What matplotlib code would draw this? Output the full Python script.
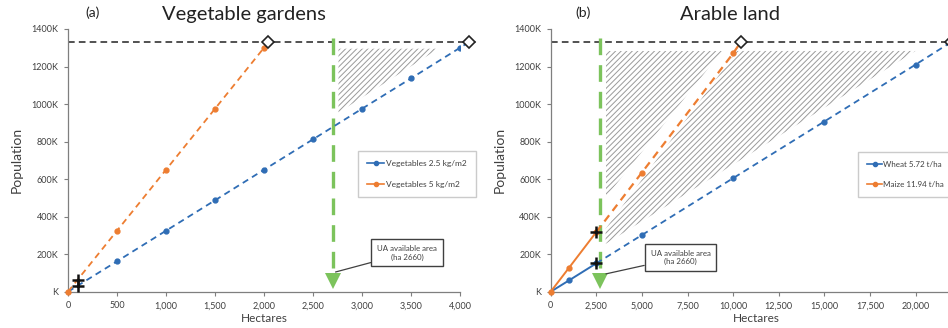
import matplotlib
matplotlib.use('Agg')
import matplotlib.pyplot as plt
from matplotlib.ticker import FuncFormatter

plt.rcParams['font.family'] = ['Lato', 'DejaVu Sans']
plt.rcParams['hatch.linewidth'] = 0.7
plt.rcParams['hatch.color'] = '#9a9a9a'

BLUE = '#2f6db5'
ORANGE = '#ed7d31'
GREEN = '#7cc35c'
TXT = '#404040'

POP_TARGET = 1330  # thousands
UA_AREA = 2700

# (a) vegetable gardens, hectares vs population (K)
veg_x = [0, 500, 1000, 1500, 2000, 2500, 3000, 3500, 4000]
veg25_y = [0, 162, 325, 487, 650, 812, 975, 1137, 1300]
veg5_x = [0, 500, 1000, 1500, 2000]
veg5_y = [0, 325, 650, 975, 1300]
veg25_end = 4090
veg5_end = 2045
veg_plus_x = [100, 100]
veg_plus_y = [32, 65]
veg_ticks = [0, 500, 1000, 1500, 2000, 2500, 3000, 3500, 4000]

# (b) arable land
wheat_x = [0, 1000, 2500, 5000, 10000, 15000, 20000]
wheat_y = [0, 60, 151, 302, 605, 907, 1210]
maize_x = [0, 1000, 2500, 5000, 10000]
maize_y = [0, 127, 318, 635, 1270]
wheat_end = 21950
maize_end = 10420
arable_ticks = [0, 2500, 5000, 7500, 10000, 12500, 15000, 17500, 20000, 22500]

y_ticks = [0, 200, 400, 600, 800, 1000, 1200, 1400]

fig = plt.figure(figsize=(9.48, 3.28), dpi=100)
ax1 = fig.add_axes([68 / 948, 36.3 / 328, 392 / 948, 262.7 / 328])
ax2 = fig.add_axes([550.7 / 948, 36.3 / 328, 410.4 / 948, 262.7 / 328])

kfmt = FuncFormatter(lambda v, p: 'K' if v == 0 else '%dK' % v)


def style_axis(ax, ticks, xmax):
    ax.set_xlim(0, xmax)
    ax.set_ylim(0, 1400)
    ax.set_xticks(ticks)
    # the last tick of panel (b) falls outside the picture, so no label for it
    ax.set_xticklabels(['{:,}'.format(t) if t < 22500 else '' for t in ticks])
    ax.set_yticks(y_ticks)
    ax.yaxis.set_major_formatter(kfmt)
    for s in ['top', 'right']:
        ax.spines[s].set_visible(False)
    for s in ['left', 'bottom']:
        ax.spines[s].set_color('#7f7f7f')
        ax.spines[s].set_linewidth(0.9)
    ax.tick_params(axis='both', labelsize=6.5, colors='#7f7f7f', labelcolor=TXT,
                   length=3, width=0.8, pad=4)
    ax.set_xlabel('Hectares', fontsize=8.5, color=TXT, labelpad=2)
    ax.set_ylabel('Population', fontsize=10, color=TXT, labelpad=6)


def green_arrow(ax):
    ax.plot([UA_AREA, UA_AREA], [1350, 75], color=GREEN, lw=2.4,
            dashes=(5, 3), zorder=3)
    ax.plot([UA_AREA], [58], marker='v', color=GREEN, markersize=11,
            markeredgewidth=0, zorder=4)


def ua_box(ax, xy, xytext):
    ax.annotate('UA available area\n(ha 2660)', xy=xy, xytext=xytext,
                ha='center', va='center', fontsize=5.7, color=TXT,
                bbox=dict(boxstyle='square,pad=0.75', fc='white', ec='#404040', lw=1),
                arrowprops=dict(arrowstyle='-', color='#404040', lw=0.9,
                                shrinkA=0, shrinkB=0), zorder=6)


# ---- (a)
style_axis(ax1, veg_ticks, 4000)
ax1.plot([0, 4160], [POP_TARGET, POP_TARGET], color='#333333', lw=1.2,
         dashes=(4, 2.5), clip_on=False, zorder=2)
ax1.fill([2760, 3780, 2760], [1295, 1295, 955], facecolor='none',
         edgecolor='#9a9a9a', hatch='//////', lw=0, zorder=1)
green_arrow(ax1)
ax1.plot(veg_x + [veg25_end], veg25_y + [POP_TARGET], color=BLUE, lw=1.3,
         dashes=(3.5, 2.5), clip_on=False, zorder=3)
ax1.plot(veg_x[1:], veg25_y[1:], 'o', color=BLUE, markersize=3.5, zorder=4)
ax1.plot(veg5_x + [veg5_end], veg5_y + [POP_TARGET], color=ORANGE, lw=1.3,
         dashes=(3.5, 2.5), zorder=3)
ax1.plot(veg5_x, veg5_y, 'o', color=ORANGE, markersize=3.5, zorder=4, clip_on=False)
ax1.plot([veg5_end, veg25_end], [POP_TARGET, POP_TARGET], 'D', mfc='white',
         mec='#222222', mew=1.2, markersize=6, clip_on=False, zorder=5)
ax1.plot(veg_plus_x, veg_plus_y, '+', color='#111111', markersize=8, mew=1.8, zorder=5)
ax1.plot([], [], '-o', color=BLUE, lw=1.2, markersize=3, label='Vegetables 2.5 kg/m2')
ax1.plot([], [], '-o', color=ORANGE, lw=1.2, markersize=3, label='Vegetables 5 kg/m2')
leg1 = ax1.legend(loc='upper left', bbox_to_anchor=(0.73, 0.551), fontsize=6.0,
                  frameon=True, fancybox=False, handlelength=2.0, handletextpad=0.2,
                  labelspacing=1.6, borderpad=1.1, labelcolor=TXT)
leg1.get_frame().set_edgecolor('#bfbfbf')
leg1.get_frame().set_linewidth(1)
ua_box(ax1, (2730, 105), (3460, 207))
ax1.text(0.045, 1.045, '(a)', transform=ax1.transAxes, fontsize=10, color='#222222')
ax1.text(0.45, 1.035, 'Vegetable gardens', transform=ax1.transAxes, fontsize=14.5,
         color='#222222', ha='center')

# ---- (b)
style_axis(ax2, arable_ticks, 22500)
ax2.plot([0, 22500], [POP_TARGET, POP_TARGET], color='#333333', lw=1.2,
         dashes=(4, 2.5), zorder=2)
ax2.fill([3010, 3010, 9400], [505, 1283, 1283], facecolor='none',
         edgecolor='#9a9a9a', hatch='//////', lw=0, zorder=1)
ax2.fill([3010, 3010, 10200, 20000], [255, 335, 1283, 1283], facecolor='none',
         edgecolor='#9a9a9a', hatch='//////', lw=0, zorder=1)
green_arrow(ax2)
ax2.plot(wheat_x[:3], wheat_y[:3], color=BLUE, lw=1.4, zorder=3)
ax2.plot(wheat_x[2:] + [wheat_end], wheat_y[2:] + [POP_TARGET], color=BLUE, lw=1.3,
         dashes=(3.5, 2.5), zorder=3)
ax2.plot(wheat_x[1:], wheat_y[1:], 'o', color=BLUE, markersize=3.5, zorder=4)
ax2.plot(maize_x[:3], maize_y[:3], color=ORANGE, lw=1.4, zorder=3)
ax2.plot(maize_x[2:] + [maize_end], maize_y[2:] + [POP_TARGET], color=ORANGE, lw=1.6,
         dashes=(3.5, 2.5), zorder=3)
ax2.plot(maize_x, maize_y, 'o', color=ORANGE, markersize=3.5, zorder=4, clip_on=False)
ax2.plot([maize_end, wheat_end], [POP_TARGET, POP_TARGET], 'D', mfc='white',
         mec='#222222', mew=1.2, markersize=6, zorder=5)
ax2.plot([wheat_x[2], maize_x[2]], [wheat_y[2], maize_y[2]], '+', color='#111111',
         markersize=8, mew=1.8, zorder=5)
ax2.plot([], [], '-o', color=BLUE, lw=1.2, markersize=3, label='Wheat 5.72 t/ha')
ax2.plot([], [], '-o', color=ORANGE, lw=1.2, markersize=3, label='Maize 11.94 t/ha')
leg2 = ax2.legend(loc='upper left', bbox_to_anchor=(0.74, 0.547), fontsize=5.8,
                  frameon=True, fancybox=False, handlelength=1.8, handletextpad=0.2,
                  labelspacing=1.6, borderpad=1.1, labelcolor=TXT)
leg2.get_frame().set_edgecolor('#bfbfbf')
leg2.get_frame().set_linewidth(1)
ua_box(ax2, (3030, 95), (7120, 183))
ax2.text(0.06, 1.045, '(b)', transform=ax2.transAxes, fontsize=10, color='#222222')
ax2.text(0.438, 1.035, 'Arable land', transform=ax2.transAxes, fontsize=14.5,
         color='#222222', ha='center')

fig.savefig('out.png', dpi=100)
